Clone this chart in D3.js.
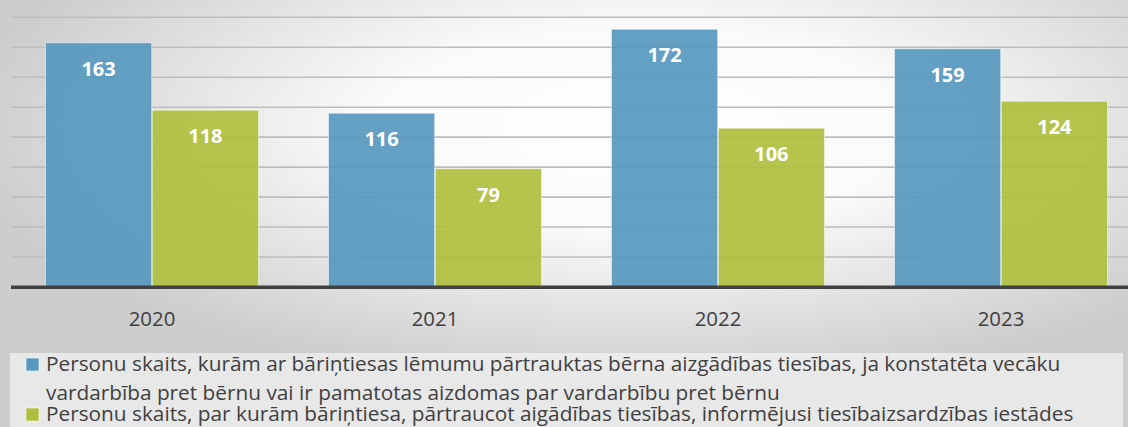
<!DOCTYPE html>
<html><head><meta charset="utf-8">
<script src="https://cdn.jsdelivr.net/npm/d3@7"></script>
<style>html,body{margin:0;padding:0;overflow:hidden;background:#fff}</style>
</head><body>
<svg id="chart" width="1128" height="427"></svg>
<script>
const years = ["2020", "2021", "2022", "2023"];
const seriesNames = [
  "Personu skaits, kurām ar bāriņtiesas lēmumu pārtrauktas bērna aizgādības tiesības, ja konstatēta vecāku vardarbība pret bērnu vai ir pamatotas aizdomas par vardarbību pret bērnu",
  "Personu skaits, par kurām bāriņtiesa, pārtraucot aigādības tiesības, informējusi tiesībaizsardzības iestādes"
];
const series1 = [163, 116, 172, 159];
const series2 = [118, 79, 106, 124];
const gridTicks = [20, 40, 60, 80, 100, 120, 140, 160, 180];
const colors = ["#5898bf", "#afbf3e"];
const legendLines = [
  {text: "Personu skaits, kurām ar bāriņtiesas lēmumu pārtrauktas bērna aizgādības tiesības, ja konstatēta vecāku", s: 0},
  {text: "vardarbība pret bērnu vai ir pamatotas aizdomas par vardarbību pret bērnu", s: -1},
  {text: "Personu skaits, par kurām bāriņtiesa, pārtraucot aigādības tiesības, informējusi tiesībaizsardzības iestādes", s: 1}
];

const W = 1128, H = 427;
const svg = d3.select("#chart");
const defs = svg.append("defs");
const rg = defs.append("radialGradient").attr("id", "bg")
  .attr("cx", "0.57").attr("cy", "0.3").attr("r", "0.6").attr("fx", "0.57").attr("fy", "0.3");
rg.append("stop").attr("offset", "0").attr("stop-color", "#ffffff");
rg.append("stop").attr("offset", "0.4").attr("stop-color", "#fafafa");
rg.append("stop").attr("offset", "1").attr("stop-color", "#cdcdcd");
svg.append("rect").attr("width", W).attr("height", H).attr("fill", "url(#bg)");

const font = "'Open Sans', sans-serif";
const x0 = d3.scaleBand().domain(years).range([10.5, 10.5 + 283 * 4]).paddingInner(0.247).paddingOuter(0.1235);
const x1 = d3.scaleBand().domain([0, 1]).range([0, x0.bandwidth()]).paddingInner(0.005);
const y = d3.scaleLinear().domain([0, 180]).range([287, 17.3]);

// gridlines
svg.append("g").selectAll("line").data(gridTicks).join("line")
  .attr("x1", 11).attr("x2", W)
  .attr("y1", d => y(d)).attr("y2", d => y(d))
  .attr("stroke", "#bdbdbd").attr("stroke-width", 1.6);

const data = years.map((yr, i) => ({yr, vals: [series1[i], series2[i]]}));
const groups = svg.append("g").selectAll("g").data(data).join("g")
  .attr("transform", d => `translate(${x0(d.yr)},0)`);
groups.selectAll("rect").data(d => d.vals.map((v, s) => ({v, s}))).join("rect")
  .attr("x", d => x1(d.s)).attr("width", x1.bandwidth())
  .attr("y", d => y(d.v)).attr("height", d => y(0) - y(d.v))
  .attr("fill", d => colors[d.s]).attr("fill-opacity", 0.93)
  .attr("stroke", "rgba(255,255,255,0.55)").attr("stroke-width", 1);
groups.selectAll("text").data(d => d.vals.map((v, s) => ({v, s}))).join("text")
  .attr("x", d => x1(d.s) + x1.bandwidth() / 2)
  .attr("y", d => y(d.v) + 33)
  .attr("text-anchor", "middle").attr("fill", "#fff")
  .attr("font-family", font).attr("font-weight", 700).attr("font-size", 20)
  .text(d => d.v);

// axis
const xAxis = d3.axisBottom(x0).tickSize(0).tickPadding(0);
const ax = svg.append("g").attr("transform", "translate(0,287)").call(xAxis);
ax.select(".domain").remove();
ax.append("line").attr("x1", 11).attr("x2", W).attr("y1", 0.3).attr("y2", 0.3)
  .attr("stroke", "#404040").attr("stroke-width", 3.5);
ax.attr("font-family", font).attr("font-size", 20);
const tickTexts = ax.selectAll(".tick text").attr("y", 39).attr("dy", null)
  .attr("font-family", font).attr("font-size", 20).attr("fill", "#404040");
const tw = tickTexts.node().getComputedTextLength();
tickTexts.attr("font-size", 20 * 46.7 / tw);

// legend
const lg = svg.append("g");
lg.append("rect").attr("x", 10).attr("y", 353).attr("width", 1113).attr("height", 80)
  .attr("fill", "#ffffff").attr("fill-opacity", 0.55);
const baselines = [371, 400, 421];
legendLines.forEach((l, i) => {
  if (l.s >= 0) {
    lg.append("rect").attr("x", 26).attr("y", baselines[i] - 13).attr("width", 13).attr("height", 13)
      .attr("fill", colors[l.s]).attr("stroke", "rgba(255,255,255,0.6)").attr("stroke-width", 1);
  }
  lg.append("text").attr("class", "lt").attr("x", 46).attr("y", baselines[i])
    .attr("font-family", font).attr("font-size", 18).attr("fill", "#404040").text(l.text);
});
// fit legend font size to reference width
const t0 = lg.select("text.lt").node();
const meas = t0.getComputedTextLength();
const fs = 18 * 1015 / meas;
lg.selectAll("text.lt").attr("font-size", fs);
</script>
</body></html>
